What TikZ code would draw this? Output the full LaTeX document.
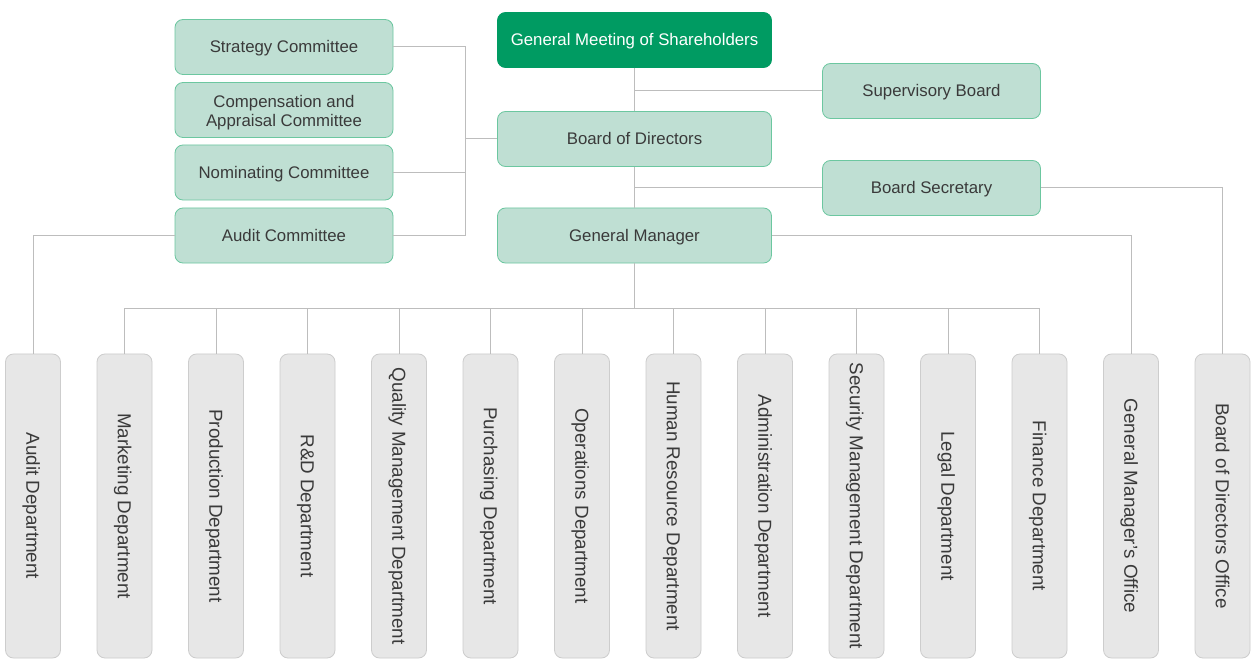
\documentclass[tikz,border=0pt]{standalone}
\usepackage{fontspec}
\setmainfont{Liberation Sans}
\definecolor{boxfill}{HTML}{BFDFD3}
\definecolor{boxline}{HTML}{6CC7A0}
\definecolor{topfill}{HTML}{009B62}
\definecolor{deptfill}{HTML}{E7E7E7}
\definecolor{deptline}{HTML}{CDCDCD}
\definecolor{connc}{HTML}{BDBDBD}
\definecolor{txt}{HTML}{3A3A3A}
\begin{document}
\begin{tikzpicture}[x=1bp,y=-1bp,
  boxfont/.style={text=txt, font=\fontsize{16.8bp}{19.5bp}\selectfont, align=center, inner sep=0pt},
  gboxbase/.style={boxfont, draw=boxline, fill=boxfill, rounded corners=8bp, minimum width=218bp, minimum height=55bp, line width=0.8bp},
  gbox/.style={gboxbase, text height=12bp, text depth=0pt},
  cbox/.style={gbox, minimum width=274bp},
  topbox/.style={cbox, draw=topfill, fill=topfill, text=white},
  dept/.style={draw=deptline, fill=deptfill, rounded corners=8bp, minimum width=304bp, minimum height=55bp,
    rotate=-90, text=txt, font=\fontsize{18.8bp}{22bp}\selectfont, inner sep=0pt, line width=0.8bp,
    text height=13.4bp, text depth=0pt},
  conn/.style={draw=connc, line width=1bp}]
\useasboundingbox (0,0) rectangle (1256,666);
\fill[white] (0,0) rectangle (1256,666);

% committees
\node[gbox] (strat) at (284,47) {Strategy Committee};
\node[gboxbase] (comp) at (284,110) {};
\node[boxfont] (compt) at ([yshift=-2.5bp]comp.center) {Compensation and\\Appraisal Committee};
\node[gbox] (nom) at (284,172.5) {Nominating Committee};
\node[gbox] (audc) at (284,235.5) {Audit Committee};

% main chain
\node[topbox] (gms) at (634.5,40) {General Meeting of Shareholders};
\node[cbox] (bod) at (634.5,139) {Board of Directors};
\node[cbox] (gm) at (634.5,235.5) {General Manager};

\node[gbox] (sup) at (931.5,91) {Supervisory Board};
\node[gbox] (sec) at (931.5,188) {Board Secretary};

% departments
\foreach \i/\t in {0/Audit Department, 1/Marketing Department, 2/Production Department,
  3/R\&D Department, 4/Quality Management Department, 5/Purchasing Department,
  6/Operations Department, 7/Human Resource Department, 8/Administration Department,
  9/Security Management Department, 10/Legal Department, 11/Finance Department,
  12/General Manager’s Office, 13/Board of Directors Office}
  \node[dept] (d\i) at ({33+91.5*\i},506) {\t};

% connectors
\coordinate (cbus) at (465,0);
\coordinate (hb) at (0,308);
\draw[conn] (strat.east) -- (strat.east -| cbus) -- (audc.east -| cbus) -- (audc.east);
\draw[conn] (nom.east) -- (nom.east -| cbus);
\draw[conn] (bod.west) -- (bod.west -| cbus);

\draw[conn] (gms.south) -- (bod.north);
\draw[conn] (sup.west) -- (sup.west -| gms.south);
\draw[conn] (bod.south) -- (gm.north);
\draw[conn] (sec.west) -- (sec.west -| bod.south);

\draw[conn] (sec.east) -| (d13.west);
\draw[conn] (gm.east) -| (d12.west);
\draw[conn] (audc.west) -| (d0.west);

\draw[conn] (gm.south) -- (gm.south |- hb);
\draw[conn] (d1.west |- hb) -- (d11.west |- hb);
\foreach \i in {1,...,11}
  \draw[conn] (d\i.west) -- (d\i.west |- hb);
\end{tikzpicture}
\end{document}
